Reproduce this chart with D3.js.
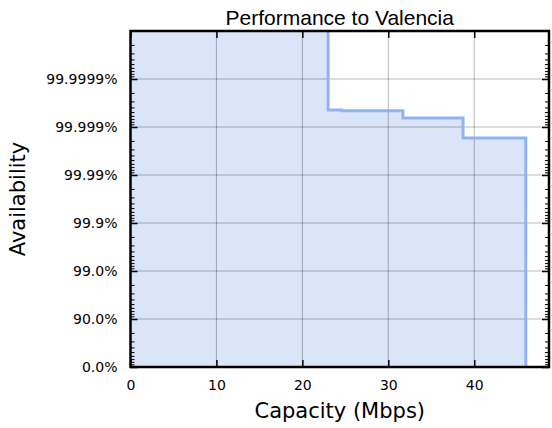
<!DOCTYPE html>
<html>
<head>
<meta charset="utf-8">
<script src="https://cdn.jsdelivr.net/npm/d3@7"></script>
<style>
  html, body { margin: 0; padding: 0; background: #fff; }
  svg { display: block; }
</style>
</head>
<body>
<svg id="chart" width="552" height="428"></svg>
<script>
// Capacity breakpoints (Mbps) and the availability (%) reached from each one on
const capacity = [0, 23.0, 24.6, 31.7, 38.7, 46.0];
const availability = [100, 99.99956, 99.99954, 99.99935, 99.9983, 0];

// Axis ticks
const xTicks = [0, 10, 20, 30, 40];
const yTickNines = [0, 1, 2, 3, 4, 5, 6];
const yTickLabels = ["0.0%", "90.0%", "99.0%", "99.9%", "99.99%", "99.999%", "99.9999%"];

const title = "Performance to Valencia";
const xLabel = "Capacity (Mbps)";
const yLabel = "Availability";

const W = 552, H = 428;
const m = { left: 130.5, right: 3, top: 31, bottom: 61 };
const pw = W - m.left - m.right, ph = H - m.top - m.bottom;

const svg = d3.select("#chart");
const g = svg.append("g").attr("transform", `translate(${m.left},${m.top})`);

// Number of nines for an availability percentage
const nines = a => a >= 100 ? 8 : -Math.log10(1 - a / 100);

const x = d3.scaleLinear().domain([0, 48.7]).range([0, pw]);
const y = d3.scaleLinear().domain([0, 7]).range([ph, 0]);

const pts = capacity.map((c, i) => ({ c, n: nines(availability[i]) }));

svg.append("defs").append("clipPath").attr("id", "plotclip")
  .append("rect").attr("width", pw).attr("height", ph);

const plot = g.append("g").attr("clip-path", "url(#plotclip)");

// Shaded region under the availability curve
plot.append("path")
  .datum(pts)
  .attr("fill", "rgb(218,229,249)")
  .attr("d", d3.area().curve(d3.curveStepAfter)
    .x(d => x(d.c)).y0(y(0)).y1(d => y(Math.min(d.n, 7.5))));

// Grid lines
const grid = plot.append("g").attr("stroke", "#000").attr("stroke-opacity", 0.28).attr("stroke-width", 1);
grid.selectAll(".gx").data(xTicks.slice(1)).join("line")
  .attr("x1", d => x(d)).attr("x2", d => x(d)).attr("y1", 0).attr("y2", ph);
grid.selectAll(".gy").data(yTickNines.slice(1)).join("line")
  .attr("y1", d => y(d)).attr("y2", d => y(d)).attr("x1", 0).attr("x2", pw);

// Availability step line
plot.append("path")
  .datum(pts)
  .attr("fill", "none")
  .attr("stroke", "rgb(145,180,240)")
  .attr("stroke-width", 3)
  .attr("d", d3.line().curve(d3.curveStepAfter)
    .x(d => x(d.c)).y(d => y(Math.min(d.n, 7.5))));

// Minor tick positions: 1 - a = k * 10^-(d+1), k = 2..9
const minor = [];
for (let d = 0; d < 7; d++) for (let k = 2; k <= 9; k++) minor.push(d + 1 - Math.log10(k));

const tickFont = "'DejaVu Sans', sans-serif";

// Left axis (ticks pointing inward)
const yAxisL = d3.axisLeft(y).tickValues(yTickNines).tickSizeInner(-7).tickSizeOuter(0)
  .tickPadding(13).tickFormat((d, i) => yTickLabels[i]);
const gl = g.append("g").call(yAxisL);
gl.select(".domain").remove();
gl.selectAll(".tick line").attr("stroke-width", 1.5);
gl.selectAll("text").attr("font-family", tickFont).attr("font-size", 14).attr("fill", "#000");

const yAxisR = d3.axisRight(y).tickValues(yTickNines).tickSizeInner(-7).tickSizeOuter(0).tickFormat("");
const gr = g.append("g").attr("transform", `translate(${pw},0)`).call(yAxisR);
gr.select(".domain").remove();
gr.selectAll(".tick line").attr("stroke-width", 1.5);

// Minor ticks on both sides
const mg = g.append("g").attr("stroke", "#000").attr("stroke-width", 1);
mg.selectAll(".ml").data(minor).join("line")
  .attr("x1", 0).attr("x2", 4).attr("y1", d => y(d)).attr("y2", d => y(d));
mg.selectAll(".mr").data(minor).join("line")
  .attr("x1", pw).attr("x2", pw - 4).attr("y1", d => y(d)).attr("y2", d => y(d));

// Bottom and top axes
const xAxisB = d3.axisBottom(x).tickValues(xTicks).tickSizeInner(-7).tickSizeOuter(0).tickPadding(13);
const gb = g.append("g").attr("transform", `translate(0,${ph})`).call(xAxisB);
gb.select(".domain").remove();
gb.selectAll(".tick line").attr("stroke-width", 1.5);
gb.selectAll("text").attr("font-family", tickFont).attr("font-size", 14).attr("fill", "#000");

const xAxisT = d3.axisTop(x).tickValues(xTicks).tickSizeInner(-7).tickSizeOuter(0).tickFormat("");
const gt = g.append("g").call(xAxisT);
gt.select(".domain").remove();
gt.selectAll(".tick line").attr("stroke-width", 1.5);

// Plot frame
g.append("rect").attr("width", pw).attr("height", ph)
  .attr("fill", "none").attr("stroke", "#000").attr("stroke-width", 2.5);

// Titles
svg.append("text").attr("x", m.left + pw / 2).attr("y", 25)
  .attr("text-anchor", "middle").attr("font-family", "'Liberation Sans', Arial, sans-serif")
  .attr("font-size", 21).text(title);

svg.append("text").attr("x", m.left + pw / 2).attr("y", 418)
  .attr("text-anchor", "middle").attr("font-family", tickFont)
  .attr("font-size", 21).text(xLabel);

svg.append("text").attr("transform", `translate(25,${m.top + ph / 2}) rotate(-90)`)
  .attr("text-anchor", "middle").attr("font-family", tickFont)
  .attr("font-size", 21).text(yLabel);
</script>
</body>
</html>
